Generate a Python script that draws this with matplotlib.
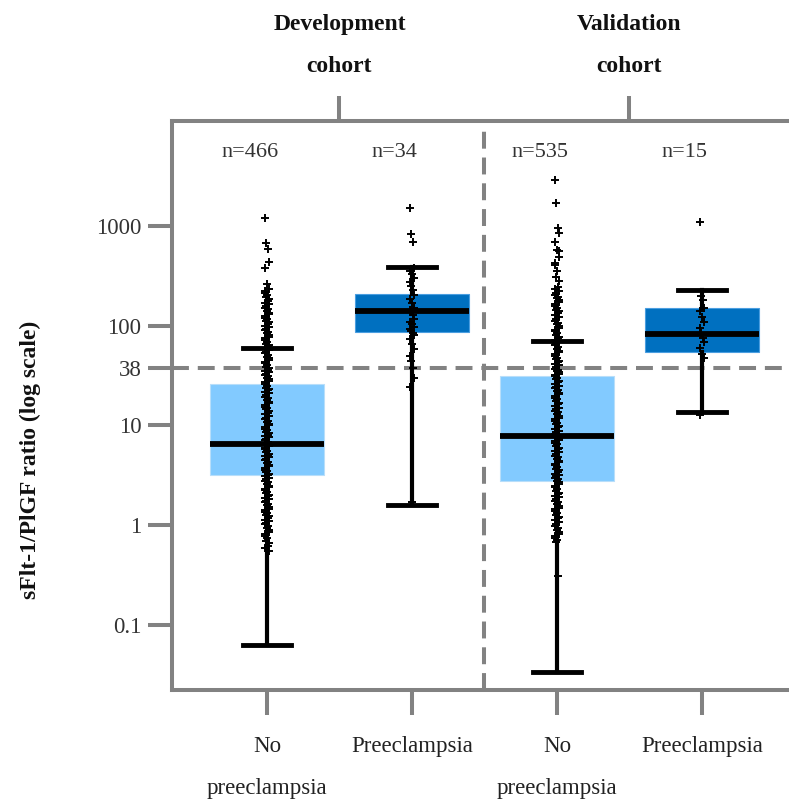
import numpy as np
import matplotlib
matplotlib.use("Agg")
import matplotlib.pyplot as plt

plt.rcParams['font.family'] = ['Liberation Serif', 'DejaVu Serif']

# ---------------- data ----------------
categories = ["No\npreeclampsia", "Preeclampsia", "No\npreeclampsia", "Preeclampsia"]
cohorts = ["Development\ncohort", "Validation\ncohort"]
n_labels = ["n=466", "n=34", "n=535", "n=15"]

q1 = [3.2, 87, 2.8, 54]
median = [6.5, 141, 7.9, 83]
q3 = [26, 209, 31, 151]
whis_lo = [0.063, 1.6, 0.034, 13.5]
whis_hi = [60, 389, 71, 229]

cutoff = 38
ytick_vals = [0.1, 1, 10, 38, 100, 1000]
ytick_labels = ["0.1", "1", "10", "38", "100", "1000"]

dev_nope = [1200, 680, 590, 440, 380, 260, 235, 215, 195, 178, 165, 152, 140, 131,
            120, 112, 104, 97, 90, 84, 78, 72, 66, 62, 57, 53, 49, 45, 42, 39, 36,
            34, 32, 30, 28, 26, 24, 22.5, 21, 19.5, 18, 16.8, 15.5, 14.5, 13.4, 12.4,
            11.5, 10.8, 10, 9.3, 8.7, 8.1, 7.6, 7.1, 6.6, 6.2, 5.8, 5.4, 5.1, 4.8,
            4.5, 4.2, 3.9, 3.6, 3.4, 3.2, 3.0, 2.8, 2.6, 2.4, 2.25, 2.1, 1.95, 1.82,
            1.7, 1.58, 1.47, 1.37, 1.28, 1.19, 1.1, 1.02, 0.94, 0.86, 0.78, 0.7,
            0.62, 0.55,
            225, 205, 186, 171, 158, 146, 135, 125, 116, 108, 100, 93, 87, 81, 75,
            69, 64, 59, 55, 51, 47, 43.5, 40.5, 37.5, 35, 33, 31, 29, 27, 25, 23.2,
            21.8, 20.3, 18.8, 17.4, 16.2, 15, 14, 12.9, 12, 11.1, 10.4, 9.6, 9,
            8.4, 7.8, 7.3, 6.8, 6.4, 6, 5.6, 5.2, 4.9, 4.6, 4.3, 4.0, 3.75, 3.5,
            3.3, 3.1, 2.9, 2.7, 2.5, 2.33, 2.17, 2.02, 1.88, 1.76, 1.64, 1.52,
            1.42, 1.32, 1.23, 1.14, 1.06, 0.98, 0.9, 0.82, 0.74, 0.66, 0.59]
dev_pe = [1500, 830, 690, 380, 355, 330, 300, 275, 250, 228, 205, 185, 168, 152,
          143, 136, 128, 118, 110, 103, 98, 93, 88, 84, 80, 74, 66, 58, 50, 44,
          38, 30, 24.5, 1.7]
val_nope = [2900, 1700, 960, 850, 690, 575, 490, 410, 310, 245, 225, 205, 188, 172,
            158, 145, 133, 122, 112, 103, 95, 88, 81, 75, 69, 64, 59, 54, 50, 46,
            43, 40, 37, 35, 33, 31, 29, 27, 25, 23.5, 22, 20.5, 19, 17.6, 16.3,
            15.1, 14, 13, 12, 11.1, 10.3, 9.6, 8.9, 8.3, 7.7, 7.2, 6.7, 6.2, 5.8,
            5.4, 5.0, 4.6, 4.3, 4.0, 3.7, 3.4, 3.2, 3.0, 2.8, 2.6, 2.4, 2.2, 2.05,
            1.9, 1.76, 1.63, 1.5, 1.38, 1.27, 1.17, 1.08, 0.99, 0.9, 0.82, 0.75,
            0.68, 0.31,
            560, 430, 350, 280, 235, 215, 196, 180, 165, 151, 139, 127, 117, 107,
            99, 91, 84, 78, 72, 66, 61, 56, 52, 48, 44.5, 41.5, 38.5, 36, 34, 32,
            30, 28, 26, 24.2, 22.7, 21.2, 19.7, 18.3, 17, 15.7, 14.5, 13.5, 12.5,
            11.6, 10.7, 9.9, 9.2, 8.6, 8, 7.45, 6.95, 6.45, 6, 5.6, 5.2, 4.8, 4.45,
            4.15, 3.85, 3.55, 3.3, 3.1, 2.9, 2.7, 2.5, 2.3, 2.12, 1.98, 1.83, 1.7,
            1.56, 1.44, 1.32, 1.22, 1.12, 1.03, 0.94, 0.86, 0.78, 0.71]
val_pe = [1100, 200, 180, 150, 140, 123, 110, 95, 85, 75, 68, 60, 52, 48, 12.8]

points = [dev_nope, dev_pe, val_nope, val_pe]

# ---------------- style ----------------
GREY = "#828282"
LIGHT = "#82CAFF"
DARK = "#0070C0"
box_colors = [LIGHT, DARK, LIGHT, DARK]

fig = plt.figure(figsize=(7.89, 8.02), dpi=100)
W, H = 789, 802
left_px, top_px, bot_px = 172, 121, 690
xlim = (-0.655, 3.655)
ax_w_px = (xlim[1] - xlim[0]) * 145
ax = fig.add_axes([left_px / W, (H - bot_px) / H, ax_w_px / W, (bot_px - top_px) / H])

pos = np.arange(len(categories))
stats = []
for i in range(len(categories)):
    stats.append(dict(med=median[i], q1=q1[i], q3=q3[i], whislo=whis_lo[i],
                      whishi=whis_hi[i], fliers=[]))
bp = ax.bxp(stats, positions=pos, widths=0.79, patch_artist=True, showfliers=False,
            capwidths=0.33,
            boxprops=dict(linewidth=0.8),
            whiskerprops=dict(color="black", linewidth=3.0),
            capprops=dict(color="black", linewidth=3.5),
            medianprops=dict(color="black", linewidth=4.2, solid_capstyle="butt"))
for patch, c in zip(bp["boxes"], box_colors):
    patch.set_facecolor(c)
    patch.set_edgecolor("#b8defa" if c == LIGHT else "#4a9ee0")
    patch.set_zorder(1)
for k in ("whiskers", "caps"):
    for ln in bp[k]:
        ln.set_zorder(2)
for ln in bp["medians"]:
    ln.set_zorder(4)

for i, vals in enumerate(points):
    n = len(vals)
    jitter = (((np.arange(n) * 37) % 7) - 3) * 0.0055
    ax.scatter(pos[i] + jitter, vals, marker="+", s=30, linewidths=1.4,
               color="black", zorder=3)

ax.set_yscale("log")
ax.set_ylim(0.0223, 11290)
ax.set_xlim(*xlim)

# reference lines
ax.axhline(cutoff, color=GREY, lw=2.9, dashes=(4.2, 2.2), zorder=0.5)
ax.axvline(1.5, color=GREY, lw=2.9, dashes=(4.2, 2.2), zorder=0.5)

# spines
for s in ("left", "top", "bottom"):
    ax.spines[s].set_color(GREY)
    ax.spines[s].set_linewidth(2.9)
ax.spines["right"].set_visible(False)

ax.set_yticks(ytick_vals)
ax.set_yticklabels(ytick_labels)
ax.yaxis.set_minor_locator(matplotlib.ticker.NullLocator())
ax.tick_params(axis="y", length=17, width=2.9, color=GREY, pad=5,
               labelsize=16.5, labelcolor="#333333")

ax.set_xticks(pos)
ax.set_xticklabels(categories, linespacing=2.35, va="top")
ax.tick_params(axis="x", length=18, width=2.9, color=GREY, pad=15,
               labelsize=16.5, labelcolor="#222222")

# top ticks at cohort centres
sec = ax.secondary_xaxis("top")
sec.set_xticks([0.5, 2.5])
sec.set_xticklabels(cohorts, linespacing=2.3, fontweight="bold")
sec.tick_params(axis="x", length=18, width=2.9, color=GREY, pad=14,
                labelsize=17, labelcolor="#111111")
sec.spines["top"].set_visible(False)

# n labels
for i, t in enumerate(n_labels):
    ax.text(pos[i] - 0.12, 5500, t, ha="center", va="center", fontsize=16,
            color="#333333")

fig.text(30 / W, 1 - 460 / H, "sFlt-1/PlGF ratio (log scale)", rotation=90,
         ha="center", va="center", fontsize=17, fontweight="bold", color="#111111")

fig.savefig("out.png", dpi=100)
